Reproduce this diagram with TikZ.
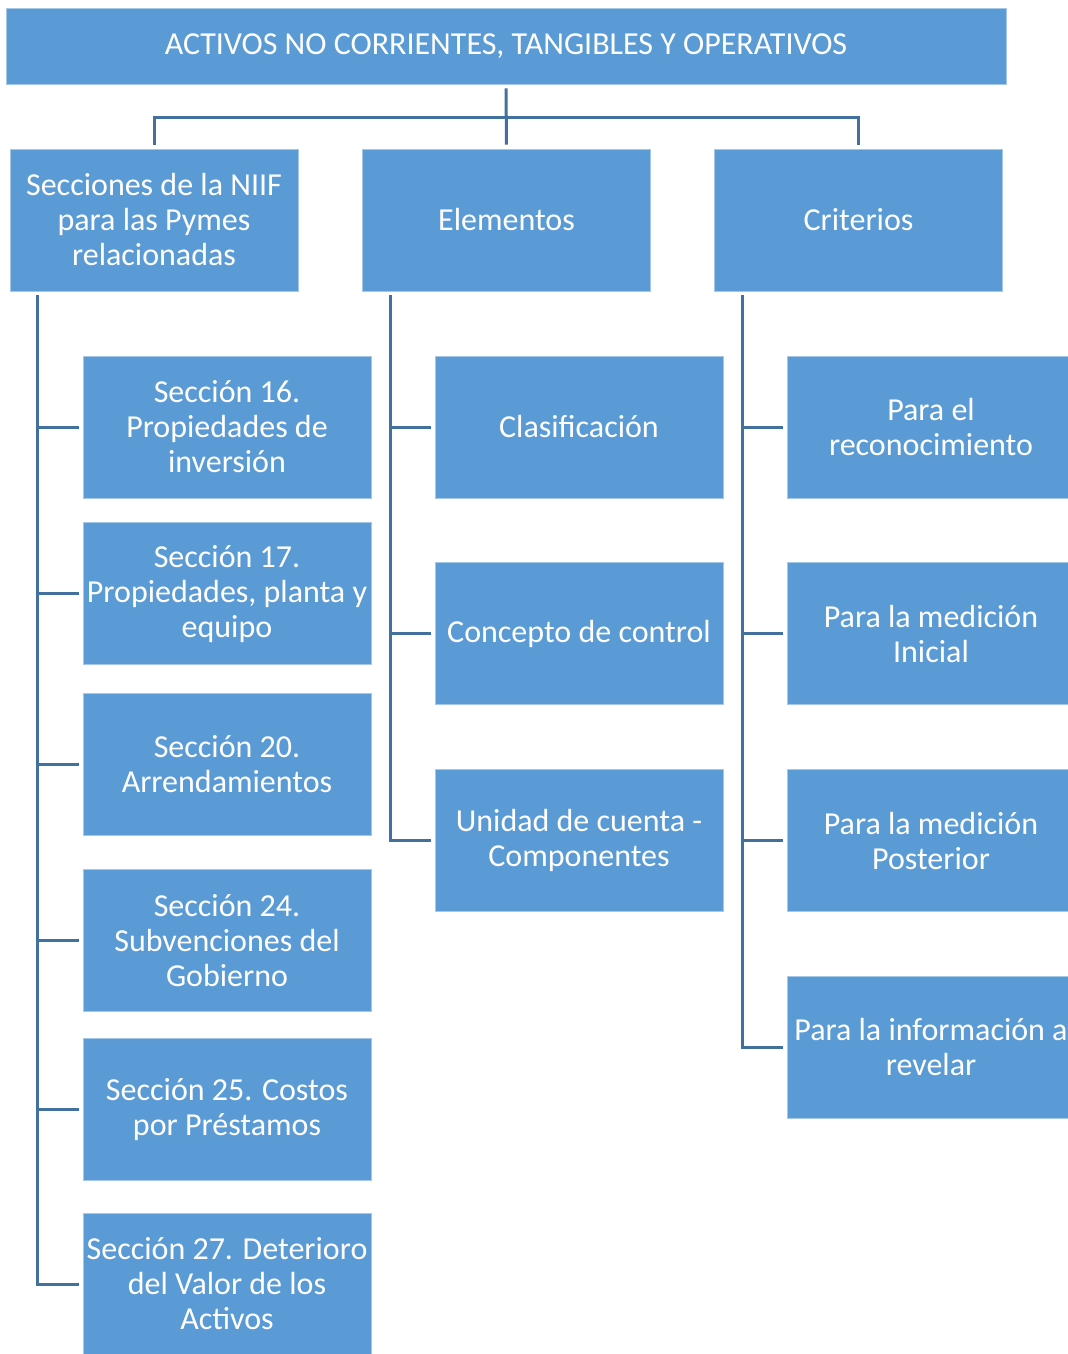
\documentclass[tikz,border=0pt]{standalone}
\usepackage{fontspec}
\setmainfont{Carlito}
\usetikzlibrary{positioning}
\definecolor{boxblue}{HTML}{5B9BD5}
\definecolor{lineblue}{HTML}{41719C}

\begin{document}
\begin{tikzpicture}[x=0.5pt,y=-0.5pt,node distance=32pt,
  main node/.style={rectangle,fill=boxblue,draw=boxblue!55!white,line width=0.4pt,text=white,
    font=\fontsize{16}{17.5}\selectfont,align=center,inner sep=0pt,
    minimum width=144pt,minimum height=71pt},
  top node/.style={main node,minimum width=500pt,minimum height=38pt},
  link/.style={draw=lineblue,line width=1.5pt,shorten <=2pt,shorten >=2pt}]

  \useasboundingbox (0,0) rectangle (1067,1354);

  \node[top node] (top) at (506,46) {ACTIVOS NO CORRIENTES, TANGIBLES Y OPERATIVOS};

  \node[main node] (sec) at (154,220) {Secciones de la NIIF\\para las Pymes\\relacionadas};
  \node[main node] (ele) at (506.5,220) {Elementos};
  \node[main node] (cri) at (858.5,220) {Criterios};

  % secciones
  \node[main node] (s16) at (227,427) {Sección 16.\\Propiedades de\\inversión};
  \node[main node] (s17) [below=12pt of s16] {Sección 17.\\Propiedades, planta y\\equipo};
  \node[main node] (s20) [below=14pt of s17] {Sección 20.\\Arrendamientos};
  \node[main node] (s24) [below=16.5pt of s20] {Sección 24.\\Subvenciones del\\Gobierno};
  \node[main node] (s25) [below=13pt of s24] {Sección 25. Costos\\por Préstamos};
  \node[main node] (s27) [below=16pt of s25] {Sección 27. Deterioro\\del Valor de los\\Activos};

  % elementos
  \node[main node] (cla) at (579,427) {Clasificación};
  \node[main node] (con) [below=of cla] {Concepto de control};
  \node[main node] (uni) [below=of con] {Unidad de cuenta -\\Componentes};

  % criterios
  \node[main node] (rec) at (931,427) {Para el\\reconocimiento};
  \node[main node] (ini) [below=of rec] {Para la medición\\Inicial};
  \node[main node] (pos) [below=of ini] {Para la medición\\Posterior};
  \node[main node] (rev) [below=of pos] {Para la información a\\revelar};

  \coordinate (hub) at ([yshift=-16.5pt]top.south);
  \draw[link] (sec.north) |- (hub) -| (cri.north);
  \draw[link] (top.south) -- (ele.north);

  \coordinate (lt) at ([xshift=14pt]sec.south west);
  \coordinate (mt) at ([xshift=14pt]ele.south west);
  \coordinate (rt) at ([xshift=14pt]cri.south west);

  \draw[link] (lt) |- (s27.west);
  \draw[link] (mt) |- (uni.west);
  \draw[link] (rt) |- (rev.west);

  \foreach \n in {s16,s17,s20,s24,s25}
    \draw[link,shorten <=0pt] (lt |- \n.west) -- (\n.west);
  \foreach \n in {cla,con}
    \draw[link,shorten <=0pt] (mt |- \n.west) -- (\n.west);
  \foreach \n in {rec,ini,pos}
    \draw[link,shorten <=0pt] (rt |- \n.west) -- (\n.west);

\end{tikzpicture}
\end{document}
